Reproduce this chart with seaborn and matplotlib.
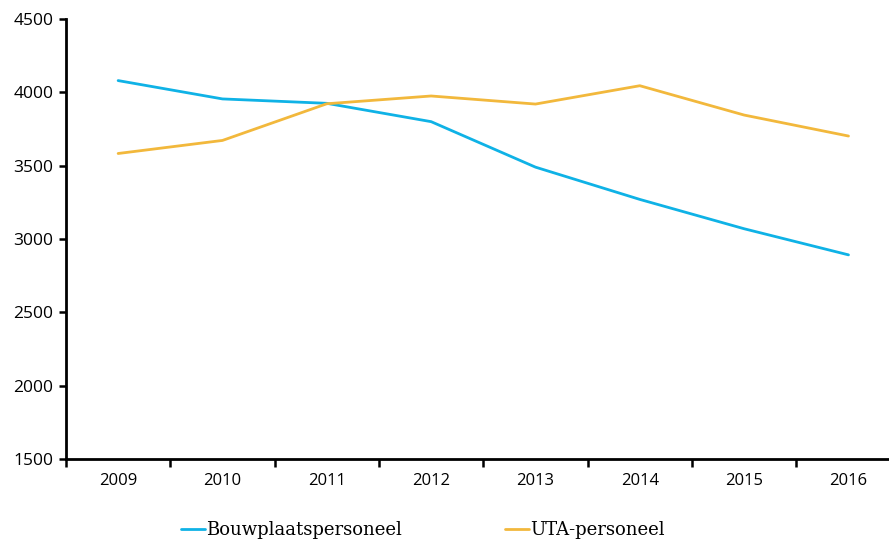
import numpy as np
import pandas as pd
import matplotlib
matplotlib.use("Agg")
import matplotlib.pyplot as plt
from matplotlib.ticker import FixedLocator
import seaborn as sns

years = ["2009", "2010", "2011", "2012", "2013", "2014", "2015", "2016"]
bouwplaats = [4080, 3955, 3925, 3800, 3490, 3270, 3070, 2892]
uta = [3583, 3672, 3922, 3975, 3920, 4045, 3845, 3702]
series_names = ["Bouwplaatspersoneel", "UTA-personeel"]
colors = {"Bouwplaatspersoneel": "#0fb2e6", "UTA-personeel": "#f2b83c"}

df = pd.DataFrame({
    "year": years * 2,
    "value": bouwplaats + uta,
    "series": [series_names[0]] * len(years) + [series_names[1]] * len(years),
})
df["x"] = df["year"].map({y: i for i, y in enumerate(years)})

sns.set_style("white")
plt.rcParams["font.family"] = ["Open Sans", "DejaVu Sans"]

fig = plt.figure(figsize=(8.89, 5.42), dpi=100)
ax = fig.add_axes([0.0742, 0.153, 0.926, 0.812])

sns.lineplot(data=df, x="x", y="value", hue="series", palette=colors,
             linewidth=2.0, ax=ax, legend=False)

ax.set_xlim(-0.5, 7.39)
ax.set_ylim(1500, 4500)
ax.set_yticks(np.arange(1500, 4501, 500))
ax.set_xticks(range(len(years)))
ax.set_xticklabels(years)
ax.xaxis.set_minor_locator(FixedLocator(np.arange(-0.5, 7.6, 1.0)))
ax.tick_params(axis="x", which="major", length=0, pad=10, labelsize=12,
               labelcolor="black")
ax.tick_params(axis="x", which="minor", length=6, width=1.8, color="black",
               direction="out", bottom=True)
ax.tick_params(axis="y", length=5, width=1.8, color="black", direction="out",
               left=True, pad=4, labelsize=12.5, labelcolor="black")
ax.set_xlabel("")
ax.set_ylabel("")

sns.despine(ax=ax)
for side in ["left", "bottom"]:
    ax.spines[side].set_color("black")
    ax.spines[side].set_linewidth(2.0)

# legend below the plot, two columns
handles = [plt.Line2D([], [], color=colors[n], linewidth=2.0) for n in series_names]
fig.legend(handles, series_names, loc="center left", bbox_to_anchor=(0.2036, 0.022),
           ncol=2, frameon=False, handlelength=1.35, handletextpad=0.05,
           columnspacing=5.7, labelcolor="black", borderpad=0, borderaxespad=0,
           prop={"family": "DejaVu Serif", "size": 13})

fig.savefig("out.png", dpi=100)
